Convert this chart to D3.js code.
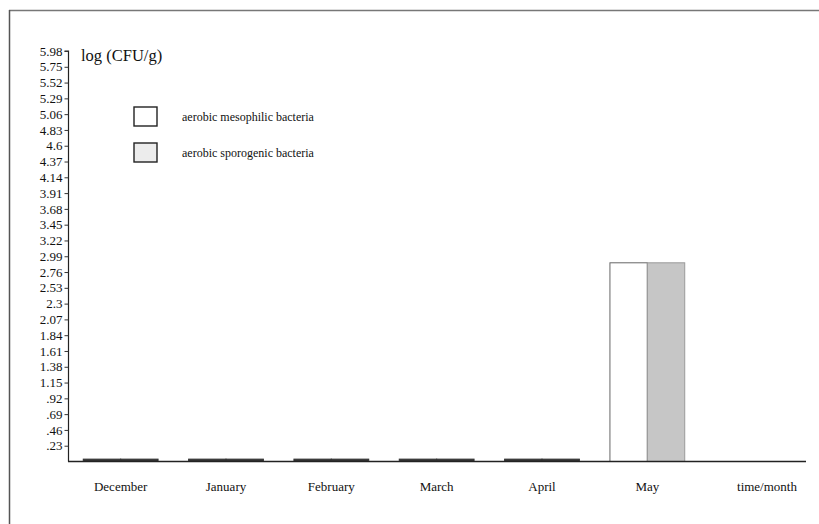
<!DOCTYPE html>
<html>
<head>
<meta charset="utf-8">
<script src="https://cdn.jsdelivr.net/npm/d3@7"></script>
<style>
  body { margin: 0; background: #fff; }
  text { font-family: "Liberation Serif", "Times New Roman", serif; fill: #111; }
</style>
</head>
<body>
<div id="chart"></div>
<script>
// data
var months = ["December", "January", "February", "March", "April", "May"];
var seriesNames = ["aerobic mesophilic bacteria", "aerobic sporogenic bacteria"];
var mesophilic = [0.02, 0.02, 0.02, 0.02, 0.02, 2.88];
var sporogenic = [0.02, 0.02, 0.02, 0.02, 0.02, 2.88];
var tickValues = [0.23, 0.46, 0.69, 0.92, 1.15, 1.38, 1.61, 1.84, 2.07, 2.3, 2.53, 2.76,
                  2.99, 3.22, 3.45, 3.68, 3.91, 4.14, 4.37, 4.6, 4.83, 5.06, 5.29, 5.52, 5.75, 5.98];
var tickLabels = [".23", ".46", ".69", ".92", "1.15", "1.38", "1.61", "1.84", "2.07", "2.3", "2.53", "2.76",
                  "2.99", "3.22", "3.45", "3.68", "3.91", "4.14", "4.37", "4.6", "4.83", "5.06", "5.29", "5.52", "5.75", "5.98"];

var width = 819, height = 524;
var margin = { top: 51, left: 68, bottom: 63 };

var svg = d3.select("#chart").append("svg")
    .attr("width", width)
    .attr("height", height);

// frame of the scanned figure
svg.append("line").attr("x1", 9).attr("x2", 819).attr("y1", 10.5).attr("y2", 10.5)
    .attr("stroke", "#777").attr("stroke-width", 1.5);
svg.append("line").attr("x1", 9.5).attr("x2", 9.5).attr("y1", 10).attr("y2", 524)
    .attr("stroke", "#555").attr("stroke-width", 1.5);

var baseY = height - margin.bottom + 0.5;

var y = d3.scaleLinear().domain([0, 5.98]).range([baseY, margin.top]);

var x0 = d3.scaleBand().domain(months).range([margin.left, 700])
    .paddingInner(0.29).paddingOuter(0.145);
var x1 = d3.scaleBand().domain(seriesNames).range([0, x0.bandwidth()]);

var fills = ["#ffffff", "#c6c6c6"];

var rows = months.map(function (m, i) {
    return { month: m, values: [mesophilic[i], sporogenic[i]] };
});

// bars
var groups = svg.append("g").selectAll("g")
    .data(rows).enter().append("g")
    .attr("transform", function (d) { return "translate(" + x0(d.month) + ",0)"; });

groups.selectAll("rect")
    .data(function (d) { return d.values.map(function (v, j) { return { key: seriesNames[j], value: v, j: j }; }); })
    .enter().append("rect")
    .attr("x", function (d) { return x1(d.key); })
    .attr("width", x1.bandwidth())
    .attr("y", function (d) { return y(d.value) - 1; })
    .attr("height", function (d) { return baseY - y(d.value) + 1; })
    .attr("fill", function (d) { return d.value < 0.1 ? "#333" : fills[d.j]; })
    .attr("stroke", function (d) { return d.value < 0.1 ? "#333" : (d.j === 0 ? "#666" : "#999"); })
    .attr("stroke-width", 1);

// y axis
var yAxis = d3.axisLeft(y)
    .tickValues(tickValues)
    .tickFormat(function (d, i) { return tickLabels[i]; })
    .tickSize(4)
    .tickSizeOuter(0);

var ga = svg.append("g")
    .attr("transform", "translate(" + (margin.left + 0.5) + ",0)")
    .call(yAxis);
ga.select(".domain").attr("stroke", "#222").attr("stroke-width", 1.2)
    .attr("d", "M-4," + y(5.98) + "H0V" + baseY);
ga.selectAll(".tick line").attr("stroke", "#333");
ga.selectAll(".tick text")
    .attr("x", -6)
    .style("font-family", "Liberation Serif, serif")
    .style("font-size", "13px")
    .attr("fill", "#111");

// baseline
svg.append("line")
    .attr("x1", margin.left).attr("x2", 806)
    .attr("y1", baseY).attr("y2", baseY)
    .attr("stroke", "#222").attr("stroke-width", 1.5);

// month labels
svg.append("g").selectAll("text")
    .data(months).enter().append("text")
    .attr("x", function (d) { return x0(d) + x0.bandwidth() / 2; })
    .attr("y", baseY + 29)
    .attr("text-anchor", "middle")
    .style("font-size", "13px")
    .text(function (d) { return d; });

svg.append("text")
    .attr("x", 767).attr("y", baseY + 29)
    .attr("text-anchor", "middle")
    .style("font-size", "13px")
    .text("time/month");

// y title
svg.append("text")
    .attr("x", 81).attr("y", 61)
    .style("font-size", "16.5px")
    .text("log (CFU/g)");

// legend
var legend = svg.append("g").selectAll("g")
    .data(seriesNames).enter().append("g")
    .attr("transform", function (d, i) { return "translate(134," + (107 + i * 36) + ")"; });

legend.append("rect")
    .attr("width", 23).attr("height", 19)
    .attr("fill", function (d, i) { return i === 0 ? "#fff" : "#ececec"; })
    .attr("stroke", "#222").attr("stroke-width", 1.4);

legend.append("text")
    .attr("x", 48).attr("y", 14)
    .style("font-size", "12px")
    .text(function (d) { return d; });
</script>
</body>
</html>
